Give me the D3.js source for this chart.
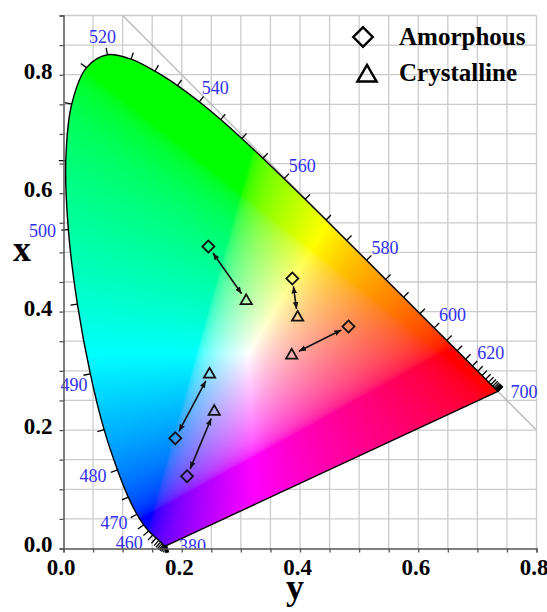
<!DOCTYPE html>
<html><head><meta charset="utf-8">
<script src="https://cdn.jsdelivr.net/npm/d3@7"></script>
<style>
html,body{margin:0;padding:0;background:#fff;}
svg{display:block;}
</style></head><body>
<svg id="chart" width="547" height="612"></svg>
<script>
// ---------- data ----------
// CIE 1931 spectral locus (5 nm steps): horizontal axis = chromaticity x, vertical = chromaticity y
const wavelengths = [380,385,390,395,400,405,410,415,420,425,430,435,440,445,450,455,460,465,470,475,480,485,490,495,500,505,510,515,520,525,530,535,540,545,550,555,560,565,570,575,580,585,590,595,600,605,610,615,620,625,630,635,640,645,650,655,660,665,670,675,680,685,690,695,700];
const locusH = [0.1741,0.1740,0.1738,0.1736,0.1733,0.1730,0.1726,0.1721,0.1714,0.1703,0.1689,0.1669,0.1644,0.1611,0.1566,0.1510,0.1440,0.1355,0.1241,0.1096,0.0913,0.0687,0.0454,0.0235,0.0082,0.0039,0.0139,0.0389,0.0743,0.1142,0.1547,0.1929,0.2296,0.2658,0.3016,0.3373,0.3731,0.4087,0.4441,0.4788,0.5125,0.5448,0.5752,0.6029,0.6270,0.6482,0.6658,0.6801,0.6915,0.7006,0.7079,0.7140,0.7190,0.7230,0.7260,0.7283,0.7300,0.7311,0.7320,0.7327,0.7334,0.7340,0.7344,0.7346,0.7347];
const locusV = [0.0050,0.0050,0.0049,0.0049,0.0048,0.0048,0.0048,0.0048,0.0051,0.0058,0.0069,0.0086,0.0109,0.0138,0.0177,0.0227,0.0297,0.0399,0.0578,0.0868,0.1327,0.2007,0.2950,0.4127,0.5384,0.6548,0.7502,0.8120,0.8338,0.8262,0.8059,0.7816,0.7543,0.7243,0.6923,0.6589,0.6245,0.5896,0.5547,0.5202,0.4866,0.4544,0.4242,0.3965,0.3725,0.3514,0.3340,0.3197,0.3083,0.2993,0.2920,0.2859,0.2809,0.2770,0.2740,0.2717,0.2700,0.2689,0.2680,0.2673,0.2666,0.2660,0.2656,0.2654,0.2653];
const labelledWavelengths = [380,460,470,480,490,500,520,540,560,580,600,620,700];

// measured samples (pairs: amorphous -> crystalline)
const amorphousH   = [0.245, 0.387, 0.482, 0.189, 0.209];
const amorphousV   = [0.510, 0.456, 0.375, 0.186, 0.122];
const crystallineH = [0.309, 0.396, 0.386, 0.247, 0.255];
const crystallineV = [0.419, 0.391, 0.327, 0.295, 0.232];

const xTickLabels = [0.0, 0.2, 0.4, 0.6, 0.8];
const yTickLabels = [0.0, 0.2, 0.4, 0.6, 0.8];
const legendLabels = ["Amorphous", "Crystalline"];
const xTitle = "y", yTitle = "x";

// ---------- layout ----------
const svg = d3.select("#chart");
const x = d3.scaleLinear([0, 0.8], [63.5, 536.5]);
const y = d3.scaleLinear([0, 0.9], [548.5, 15.5]);
const serif = "'Liberation Serif','Times New Roman',serif";
const gridStep = 0.05;
const gridX = d3.range(0, 0.8001, gridStep);
const gridY = d3.range(0, 0.9001, gridStep);

const defs = svg.append("defs");

// grid
const grid = svg.append("g").attr("stroke", "#cbcbcb").attr("stroke-width", 1.3);
grid.selectAll("line.v").data(gridX.slice(1)).join("line")
  .attr("x1", d => x(d)).attr("x2", d => x(d)).attr("y1", y(0)).attr("y2", y(0.9));
grid.selectAll("line.h").data(gridY.slice(1)).join("line")
  .attr("y1", d => y(d)).attr("y2", d => y(d)).attr("x1", x(0)).attr("x2", x(0.8));
// diagonal x + y = 1
svg.append("line").attr("stroke", "#b8b8b8").attr("stroke-width", 1.3)
  .attr("x1", x(0.1)).attr("y1", y(0.9)).attr("x2", x(0.8)).attr("y2", y(0.2));

// locus points
const pts = wavelengths.map((w, i) => [x(locusH[i]), y(locusV[i])]);
const locusPath = d3.line().curve(d3.curveCatmullRom)(pts) + "Z";

defs.append("clipPath").attr("id", "locusClip").append("path").attr("d", locusPath);
defs.append("clipPath").attr("id", "plotClip").append("rect")
  .attr("x", 0).attr("y", 0).attr("width", 547).attr("height", y(0));

// chromaticity colour fill
const cx0 = Math.floor(x(0)), cy0 = Math.floor(y(0.9));
const cw = Math.ceil(x(0.8)) - cx0, ch = Math.ceil(y(0)) - cy0;
const cv = document.createElement("canvas");
cv.width = cw; cv.height = ch;
const ctx = cv.getContext("2d");
const img = ctx.createImageData(cw, ch);
const gam = c => c <= 0.0031308 ? 12.92 * c : 1.055 * Math.pow(c, 1 / 2.4) - 0.055;
for (let j = 0; j < ch; j++) {
  for (let i = 0; i < cw; i++) {
    const h = x.invert(cx0 + i + 0.5);
    const v = Math.max(y.invert(cy0 + j + 0.5), 0.002);
    const X = h / v, Y = 1, Z = (1 - h - v) / v;
    let r = 3.2406 * X - 1.5372 * Y - 0.4986 * Z;
    let g = -0.9689 * X + 1.8758 * Y + 0.0415 * Z;
    let b = 0.0557 * X - 0.2040 * Y + 1.0570 * Z;
    r = Math.max(r, 0); g = Math.max(g, 0); b = Math.max(b, 0);
    const m = Math.max(r, g, b, 1e-9);
    const k = (j * cw + i) * 4;
    img.data[k] = Math.round(255 * gam(r / m));
    img.data[k + 1] = Math.round(255 * gam(g / m));
    img.data[k + 2] = Math.round(255 * gam(b / m));
    img.data[k + 3] = 255;
  }
}
ctx.putImageData(img, 0, 0);
svg.append("image").attr("href", cv.toDataURL())
  .attr("x", cx0).attr("y", cy0).attr("width", cw).attr("height", ch)
  .attr("preserveAspectRatio", "none")
  .attr("clip-path", "url(#locusClip)");

// locus outline
svg.append("path").attr("d", locusPath).attr("fill", "none")
  .attr("stroke", "#000").attr("stroke-width", 1.4).attr("stroke-linejoin", "round");

// locus ticks (outward normals)
function normalAt(i) {
  const a = pts[Math.max(i - 1, 0)], b = pts[Math.min(i + 1, pts.length - 1)];
  let dx = b[0] - a[0], dy = b[1] - a[1];
  const L = Math.hypot(dx, dy) || 1;
  return [dy / L, -dx / L];
}
const tickLen = 7;
svg.append("g").attr("stroke", "#000").attr("stroke-width", 1.3)
  .selectAll("line").data(wavelengths).join("line")
  .each(function (w, i) {
    const n = normalAt(i), p = pts[i];
    d3.select(this).attr("x1", p[0]).attr("y1", p[1])
      .attr("x2", p[0] + n[0] * tickLen).attr("y2", p[1] + n[1] * tickLen);
  });

// wavelength labels
const lab = svg.append("g").attr("clip-path", "url(#plotClip)")
  .attr("font-family", serif).attr("font-size", 18).attr("fill", "#3030f0")
  .attr("text-anchor", "middle");
labelledWavelengths.forEach(w => {
  const i = wavelengths.indexOf(w);
  const n = (i === 0 || i === wavelengths.length - 1) ? [1, 0] : normalAt(i);
  const p = pts[i];
  let cxl = p[0] + n[0] * (tickLen + 5) + n[0] * 14;
  let cyl = p[1] + n[1] * (tickLen + 5) + n[1] * 6;
  if (w === 490) { cxl += 9; cyl += 7; }
  lab.append("text").attr("x", cxl).attr("y", cyl).attr("dy", "0.35em").text(w);
});

// axes
const fmt = d => xTickLabels.some(t => Math.abs(t - d) < 1e-6) ? d.toFixed(1) : "";
const xAxis = svg.append("g").attr("transform", `translate(0,${y(0)})`)
  .call(d3.axisBottom(x).tickValues(gridX).tickSize(4).tickPadding(6).tickFormat(fmt));
const yAxis = svg.append("g").attr("transform", `translate(${x(0)},0)`)
  .call(d3.axisLeft(y).tickValues(gridY).tickSize(4).tickPadding(7)
    .tickFormat(d => yTickLabels.some(t => Math.abs(t - d) < 1e-6) ? d.toFixed(1) : ""));
[xAxis, yAxis].forEach(a => {
  a.select(".domain").attr("stroke", "#555").attr("stroke-width", 1.5);
  a.selectAll(".tick line").attr("stroke", "#555").attr("stroke-width", 1.3);
  a.selectAll("text").attr("font-family", serif).attr("font-size", 23)
    .attr("font-weight", "bold").attr("fill", "#000");
});
xAxis.selectAll("text").attr("dx", -3);
yAxis.selectAll("text").attr("dy", "0.15em");

// axis titles
svg.append("text").attr("x", 295).attr("y", 599).attr("text-anchor", "middle")
  .attr("font-family", serif).attr("font-weight", "bold").attr("font-size", 36).text(xTitle);
svg.append("text").attr("x", 22).attr("y", 261).attr("text-anchor", "middle")
  .attr("font-family", serif).attr("font-weight", "bold").attr("font-size", 36).text(yTitle);

// arrow marker
defs.append("marker").attr("id", "arr").attr("viewBox", "0 0 10 10")
  .attr("refX", 10).attr("refY", 5).attr("markerWidth", 7).attr("markerHeight", 7)
  .attr("markerUnits", "userSpaceOnUse").attr("orient", "auto-start-reverse")
  .append("path").attr("d", "M0,1 L10,5 L0,9 Z").attr("fill", "#111");

const pairs = amorphousH.map((h, i) => ({
  a: [x(h), y(amorphousV[i])],
  c: [x(crystallineH[i]), y(crystallineV[i])]
}));
const gap = 8;
svg.append("g").selectAll("line").data(pairs).join("line")
  .each(function (d) {
    const dx = d.c[0] - d.a[0], dy = d.c[1] - d.a[1], L = Math.hypot(dx, dy);
    const ux = dx / L, uy = dy / L;
    d3.select(this).attr("x1", d.a[0] + ux * gap).attr("y1", d.a[1] + uy * gap)
      .attr("x2", d.c[0] - ux * gap).attr("y2", d.c[1] - uy * gap);
  })
  .attr("stroke", "#111").attr("stroke-width", 1.6)
  .attr("marker-start", "url(#arr)").attr("marker-end", "url(#arr)");

// markers
const diamond = size => d3.symbol(d3.symbolSquare, size)();
const tri = size => d3.symbol(d3.symbolTriangle, size)();
svg.append("g").selectAll("path").data(pairs).join("path")
  .attr("d", diamond(72))
  .attr("transform", d => `translate(${d.a[0]},${d.a[1]}) rotate(45)`)
  .attr("fill", "none").attr("stroke", "#111").attr("stroke-width", 1.8);
svg.append("g").selectAll("path").data(pairs).join("path")
  .attr("d", tri(55))
  .attr("transform", d => `translate(${d.c[0]},${d.c[1] + 0.5})`)
  .attr("fill", "none").attr("stroke", "#111").attr("stroke-width", 1.8);

// legend
const leg = svg.append("g");
leg.append("path").attr("d", diamond(190)).attr("transform", "translate(363,37) rotate(45)")
  .attr("fill", "none").attr("stroke", "#000").attr("stroke-width", 2.4);
leg.append("path").attr("d", tri(160)).attr("transform", "translate(367,76)")
  .attr("fill", "none").attr("stroke", "#000").attr("stroke-width", 2.4);
leg.selectAll("text").data(legendLabels).join("text")
  .attr("x", 399).attr("y", (d, i) => 45 + i * 36)
  .attr("font-family", serif).attr("font-weight", "bold").attr("font-size", 25)
  .text(d => d);
</script>
</body></html>
